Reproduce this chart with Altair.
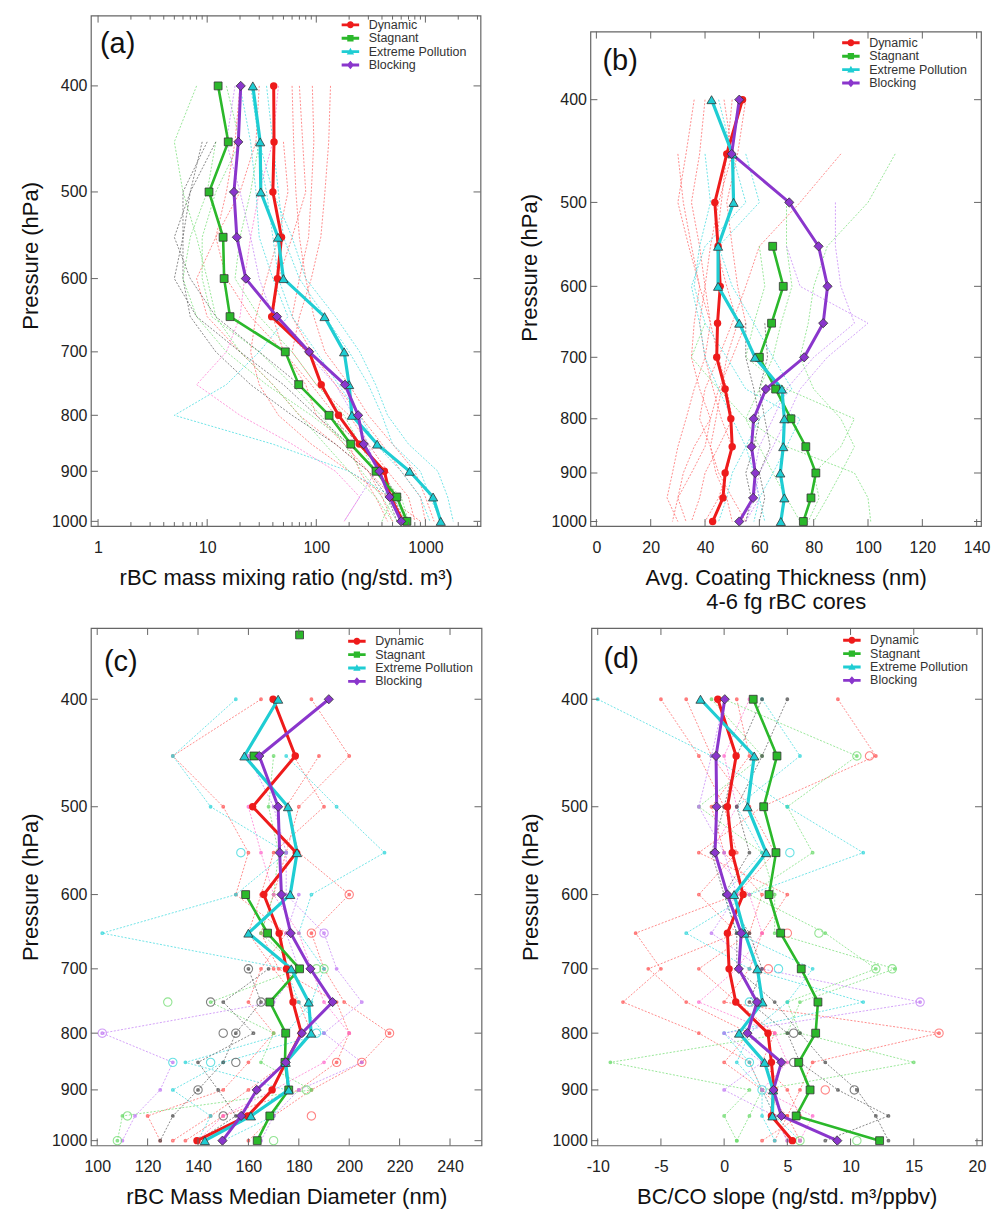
import altair as alt
import pandas as pd

FONT = "Liberation Sans"

# ---------------- data ----------------
P = [400, 450, 500, 550, 600, 650, 700, 750, 800, 850, 900, 950, 1000]
PC = [350, 400, 450, 500, 550, 600, 650, 700, 750, 800, 850, 900, 950, 1000]
PTICKS = [400, 500, 600, 700, 800, 900, 1000]

SERIES = ["Dynamic", "Stagnant", "Extreme Pollution", "Blocking"]
COLORS = ["#ee1b1b", "#2bb82b", "#1fcdd3", "#8a36cc"]
SHAPES = ["circle", "square", "triangle-up", "diamond"]

# (a) rBC mass mixing ratio
A_DYN = [40.7, 41, 40, 48, 44, 39, 86, 111, 160, 248, 421, 478, 622]
A_STA = [12.6, 15.6, 10.4, 14, 14.3, 16.2, 52, 69, 131, 207, 353, 547, 677]
A_EXT = [26.2, 30.6, 31, 44.6, 50, 119, 180, 200, 212, 361, 717, 1176, 1383]
A_BLK = [20.3, 19.3, 17.6, 18.7, 22.6, 43.6, 86, 183, 242, 272, 379, 469, 600]

# (b) coating thickness
B_DYN = [53.8, 48, 43.6, 44.8, 45.6, 44.6, 44.3, 47.4, 49.5, 50, 47.4, 46.6, 42.8]
B_STA = [None, None, None, 64.9, 68.8, 64.5, 60, 66, 71.6, 77.1, 80.8, 79, 76.2]
B_EXT = [42.4, 50.1, 50.5, 44.8, 44.8, 52.6, 58.4, 68.3, 69.2, 68.8, 67.7, 69.2, 67.9]
B_BLK = [52.6, 49.8, 71, 81.8, 85.1, 83.5, 76.5, 62.4, 57.9, 57.1, 58.5, 57.7, 52.6]

# (c) mass median diameter (levels PC, starting at 350 hPa)
C_DYN = [None, 169.8, 178.6, 161.7, 179, 166.1, 172.2, 175.1, 177.7, 181, 174.8, 169.4, 159.7, 139.6]
C_STA = [180.3, None, 162.2, None, None, 158.9, 167.6, 180.3, 168.5, 174.8, 174.5, 176, 168.5, 163.5]
C_EXT = [None, 171.8, 158.4, 175.7, 179.3, 176.6, 160, 177, 183.9, 184.9, 174.8, 176, 161, 142.7]
C_BLK = [None, 191.9, 164.3, 171.8, 172.4, 173.1, 176.8, 184.6, 193.4, 181.2, 174.8, 163.3, 157.1, 149.7]

# (d) BC/CO slope
D_DYN = [-0.5, 0.95, 0.26, 0.64, 1.5, 0.26, 0.39, 0.92, 3.47, 3.74, 3.95, 3.74, 5.4]
D_STA = [2.3, 4.18, 3.13, 4.1, 3.55, 4.47, 6.1, 7.42, 7.24, 5.9, 6.8, 5.7, 12.3]
D_EXT = [-1.87, 2.38, 1.85, 3.33, 0.79, 1.63, 2.63, 3.03, 1.18, 3.2, 3.87, 3.82, None]
D_BLK = [0.05, -0.64, -0.59, -0.72, 0.26, 1.35, 1.16, 2.6, 1.84, 4.53, 3.9, 4.53, 8.95]

# background colours of individual profiles
BG_R = "#ff5c5c"
BG_G = "#6fdc6f"
BG_C = "#35d8dc"
BG_P = "#c27bf5"
BG_K = "#555555"
BG_M = "#ff6fcf"

# (a) individual profiles
A_BG_R1 = [60, 62, 65, 70, 80, 95, 120, 200, 300, 500, 800, 1000, 1200]
A_BG_R2 = [92, 95, 90, 85, 70, 60, 90, 150, 250, 400, 600, 900, 1000]
A_BG_R3 = [135, 130, 120, 110, 90, 70, 60, 100, 200, 300, 450, 700, 800]
A_BG_R4 = [30, 28, 20, 12, 8, 10, 20, 40, 70, 150, 300, 500, 600]
A_BG_R5 = [45, 40, 30, 25, 22, 20, 15, 8, 20, 60, 150, 250, 180]
A_BG_R6 = [20, 18, 15, 12, 15, 25, 50, 90, 150, 200, 250, 350, 450]
A_BG_R7 = [70, 75, 80, 60, 45, 40, 50, 80, 100, 180, 300, 400, 500]
A_BG_R8 = [None, 50, 55, 45, 35, 28, 25, 30, 45, 90, 200, 450, 900]
A_BG_G1 = [8, 5, 6, 8, 10, 12, 20, 40, 70, 120, 200, 350, 500]
A_BG_G2 = [15, 20, 12, 9, 9, 11, 30, 60, 110, 180, 260, 400, 550]
A_BG_G3 = [None, 30, 25, 20, 18, 30, 60, 100, 180, 250, 350, 600, 700]
A_BG_G4 = [None, 12, 10, 7, 6, 8, 15, 35, 90, 200, 350, 500, 400]
A_BG_C1 = [25, 30, 40, 60, 80, 150, 250, 350, 450, 700, 1300, 1600, 1800]
A_BG_C2 = [20, 25, 28, 30, 40, 55, 30, 15, 5, 40, 200, 500, 700]
A_BG_C3 = [35, 40, 45, 50, 70, 120, 200, 300, 400, 500, 900, 1100, 1400]
A_BG_C4 = [None, 28, 35, 40, 45, 60, 100, 160, 250, 350, 600, 900, 1100]
A_BG_K1 = [None, 10, 6, 6, 5, 8, 20, 50, 100, 200, 350, 500, 650]
A_BG_K2 = [None, 12, 7, 5, 7, 12, 30, 70, 130, 250, 400, 550, 700]
A_BG_K3 = [None, 9, 7, 6, 6, 7, 12, 25, 60, 150, 300, 450, 550]
A_BG_M1 = [18, 15, 20, 25, 30, 40, 80, 150, 220, 300, 350, 250, 180]

# (b) individual profiles
B_BG_R1 = [40, 38, 35, 38, 40, 42, 45, 48, 50, 45, 40, 38, 35]
B_BG_R2 = [47, 50, 45, 42, 40, 38, 40, 43, 46, 50, 48, 45, 40]
B_BG_R3 = [55, 52, 48, 50, 52, 55, 50, 45, 42, 40, 35, 30, 28]
B_BG_R4 = [None, 90, 75, 60, 55, 50, 45, 40, 38, 42, 45, 50, 55]
B_BG_R5 = [36, 33, 30, 34, 38, 36, 35, 38, 42, 36, 32, 30, 33]
B_BG_R6 = [None, 30, 32, 35, 38, 42, 40, 36, 33, 30, 28, 26, 30]
B_BG_R7 = [50, 48, 46, 44, 48, 52, 48, 46, 44, 42, 44, 48, 50]
B_BG_G1 = [None, 110, 100, 85, 80, 78, 75, 80, 90, 95, 90, 85, 80]
B_BG_G2 = [None, None, 70, 70, 72, 68, 65, 60, 55, 60, 65, 70, 75]
B_BG_G3 = [None, None, None, None, None, 40, 35, 45, 55, 70, 95, 100, 101]
B_BG_G4 = [None, None, None, 60, 62, 58, 55, 70, 95, 90, 80, 82, 78]
B_BG_C1 = [45, 50, 55, 40, 35, 38, 40, 45, 50, 55, 50, 48, 45]
B_BG_C2 = [None, 55, 60, 45, 50, 58, 65, 72, 60, 55, 58, 60, 62]
B_BG_C3 = [None, 40, 42, 38, 36, 40, 48, 55, 75, 70, 65, 60, 58]
B_BG_P1 = [None, None, 88, 88, 90, 95, 80, 70, 65, 60, 58, 60, 55]
B_BG_P2 = [None, None, None, 70, 75, 100, 85, 75, 70, 65, 60, 58, 55]
B_BG_K1 = [None, None, None, None, None, 55, 55, 58, 60, 58, 55, 57, 55]
B_BG_K2 = [None, None, None, None, None, 62, 63, 60, 62, 64, 60, 62, 60]

# (c) individual profiles
C_BG_R1 = [185, 200, 180, 175, 170, 165, 172, 195, 200, 195, 180, 150, 135]
C_BG_R2 = [165, 130, 150, 160, 155, 175, 165, 160, 170, 160, 150, 120, 125]
C_BG_R3 = [None, 188, 175, 180, 200, 185, 190, 198, 216, 205, 185, 170, 160]
C_BG_R4 = [None, 178, 190, 170, 165, 160, 170, 180, 185, 175, 160, 145, 130]
C_BG_C1 = [155, 130, 145, 175, 155, 102, 175, 180, 190, 150, 130, 145, 140]
C_BG_C2 = [None, 175, 195, 214, 185, 180, 190, 185, 175, 135, 175, 170, 150]
C_BG_G1 = [None, 170, 168, 172, 170, 165, 180, 145, 170, 165, 185, 110, 108]
C_BG_P1 = [None, 160, 170, 175, 175, 190, 195, 205, 190, 205, 180, 170, 165]
C_BG_P2 = [None, None, None, None, 180, 175, 180, 170, 102, 130, 125, 115, 110]
C_BG_M1 = [None, None, 160, 165, 170, 180, 185, 190, 200, 190, 170, 150, 140]
C_BG_K1 = [None, None, None, None, None, None, 160, 165, 155, 150, 140, 130, 125]
C_BG_K2 = [None, None, None, None, None, None, 168, 150, 162, 140, 148, 155, 140]

C_CIRC_V = [157, 200, 190, 185, 160, 190, 187, 145, 165, 128, 102, 150, 155, 216, 187,
            130, 145, 155, 195, 205, 183, 140, 150, 112, 108, 170, 185]
C_CIRC_P = [550, 600, 650, 650, 700, 700, 700, 750, 750, 750, 800, 800, 800, 800, 800,
            850, 850, 850, 850, 850, 900, 900, 950, 950, 1000, 1000, 950]
C_CIRC_COL = [BG_C, BG_R, BG_P, BG_R, BG_K, BG_G, BG_G, BG_K, BG_K, BG_G, BG_P, BG_K, BG_K, BG_R, BG_C,
              BG_C, BG_C, BG_K, BG_R, BG_R, BG_G, BG_K, BG_K, BG_G, BG_G, BG_G, BG_R]

# (d) individual profiles
D_BG_R1 = [-3, -1, 2, 4, 1, -7, -5, -8, -2, 2, 3, 4, 5]
D_BG_R2 = [9, 12, 3, -2, 5, 3, 2, 0, 17, 7, 6, 5, 6]
D_BG_R3 = [-5, -2, 0, 1, -2, 1, -6, -3, 2, 0, 3, 5, 4]
D_BG_R4 = [1, 2, -1, 0, 3, 2, -2, 1, 4, 3, 5, 6, 3]
D_BG_G1 = [0, 10.5, 5, 7, 2, 8, 12, 5, 6, 15, 3, 2, 1]
D_BG_G2 = [-1, 3, -2, 3, 4, 4, 13.5, 6, 5, -9, 2, 0, 1]
D_BG_C1 = [-10, -1, 5, 11, 2, -3, 2, 11, 0, 2, 3, 3, 4]
D_BG_C2 = [3, 6, 1, 3, 0, 1, 7, 5, 2, 1, 3, 4, 6]
D_BG_P1 = [0, -1, -2, 0, 1, -1, 3, 15.5, 0, 3, 0, 4, 5]
D_BG_M1 = [2, 0, 1, -1, 2, 3, 1, -2, 4, 5, 3, 7, 6]
D_BG_K1 = [5, 3, 1, 2, 0, 1, 1, 4, 6, 8, 10.5, 12, 13]
D_BG_K2 = [3, 1, 0, -1, 0, 2, 3, 2, 5, 6, 9, 13, 8]

D_CIRC_V = [10.5, 11.5, 5.2, 12, 13.3, 15.5, 17, 10.3, 5.5, 4.3, 3.5, 5, 7.5, 2, 2, 3, 6, 10.5, 8, 5.5]
D_CIRC_P = [450, 450, 550, 700, 700, 750, 800, 900, 800, 700, 700, 650, 650, 750, 850, 900, 1000, 1000, 900, 850]
D_CIRC_COL = [BG_G, BG_R, BG_C, BG_G, BG_G, BG_P, BG_R, BG_K, BG_K, BG_C, BG_R, BG_R, BG_G, BG_C, BG_C,
              BG_C, BG_G, BG_G, BG_R, BG_K]

# ---------------- helpers ----------------
W_LINE = {"Dynamic": 3, "Stagnant": 2.6, "Extreme Pollution": 3.2, "Blocking": 3}
SZ_PT = {"Dynamic": 55, "Stagnant": 62, "Extreme Pollution": 85, "Blocking": 85}
SW_PT = {"Dynamic": 0, "Stagnant": 0.8, "Extreme Pollution": 0.8, "Blocking": 0.8}

LINE_PATH = "M-2.5,-0.42H2.5V0.42H-2.5Z"
LEG_PATHS = [
    LINE_PATH + "M0,-1A1,1,0,1,1,0,1A1,1,0,1,1,0,-1Z",
    LINE_PATH + "M-0.9,-0.9H0.9V0.9H-0.9Z",
    LINE_PATH + "M0,-1.1L1.05,0.8H-1.05Z",
    LINE_PATH + "M0,-1.2L1.05,0L0,1.2L-1.05,0Z",
]


def runs(plist, vals, key):
    rows = []
    seg = 0
    for p, v in zip(plist, vals):
        if v is None:
            seg += 1
            continue
        rows.append({"p": p, "v": v, "key": f"{key}-{seg}"})
    return rows


def main_df(plist, series_vals):
    rows = []
    for name, vals in zip(SERIES, series_vals):
        for r in runs(plist, vals, name):
            r.update(series=name, w=W_LINE[name], sz=SZ_PT[name], sw=SW_PT[name])
            rows.append(r)
    return pd.DataFrame(rows)


def bg_df(lines):
    rows = []
    for i, (col, vals) in enumerate(lines):
        for r in runs(P, vals, f"bg{i}"):
            r["col"] = col
            rows.append(r)
    return pd.DataFrame(rows)


def panel(mdf, bgdf, circ, xscale, xaxis, W, H, label, xmaj, xmin, legx, legy,
          labx, laby, dots=False, ytitle_y=None):
    yscale = alt.Scale(type="log", domain=[345, 1010], reverse=True, nice=False)
    ykw = dict(values=PTICKS, title="Pressure (hPa)", format="d", ticks=False, domain=False,
               grid=False, labelFontSize=16, titleFontSize=22, labelPadding=4, titlePadding=9,
               labelFont=FONT, titleFont=FONT, titleFontWeight="normal",
               labelColor="#222", titleColor="#111")
    if ytitle_y is not None:
        ykw["titleY"] = ytitle_y
    yaxis = alt.Axis(**ykw)
    X = alt.X("v:Q", scale=xscale, axis=xaxis)
    Y = alt.Y("p:Q", scale=yscale, axis=yaxis)

    layers = []
    layers.append(
        alt.Chart(bgdf).mark_line(strokeDash=[2, 1.6], strokeWidth=1, opacity=0.7, clip=True).encode(
            x=X, y=Y, stroke=alt.Stroke("col:N", scale=None), detail="key:N", order="p:Q"))
    if dots:
        layers.append(
            alt.Chart(bgdf).mark_point(shape="circle", size=5, strokeWidth=1.6, opacity=0.8, clip=True).encode(
                x=X, y=Y, stroke=alt.Stroke("col:N", scale=None)))
    if circ is not None:
        layers.append(
            alt.Chart(circ).mark_point(shape="circle", size=70, strokeWidth=1.1, opacity=0.75, clip=True).encode(
                x=X, y=Y, stroke=alt.Stroke("col:N", scale=None)))

    cscale = alt.Scale(domain=SERIES, range=COLORS)
    layers.append(
        alt.Chart(mdf).mark_line(clip=True).encode(
            x=X, y=Y, color=alt.Color("series:N", scale=cscale, legend=None),
            strokeWidth=alt.StrokeWidth("w:Q", scale=None), detail="key:N", order="p:Q"))
    layers.append(
        alt.Chart(mdf).mark_point(filled=True, opacity=1, stroke="#333333", clip=True).encode(
            x=X, y=Y, color=alt.Color("series:N", scale=cscale, legend=None),
            shape=alt.Shape("series:N", scale=alt.Scale(domain=SERIES, range=SHAPES), legend=None),
            size=alt.Size("sz:Q", scale=None),
            strokeWidth=alt.StrokeWidth("sw:Q", scale=None)))

    leg = alt.Legend(orient="none", legendX=legx, legendY=legy, title=None, labelFontSize=12.5,
                     labelFont=FONT, labelColor="#333", symbolSize=49, symbolStrokeWidth=0,
                     symbolOpacity=1, labelOffset=12, rowPadding=0.4, padding=0)
    layers.append(
        alt.Chart(mdf).mark_point(filled=True, opacity=0).encode(
            x=X, y=Y,
            fill=alt.Fill("series:N", scale=alt.Scale(domain=SERIES, range=COLORS), legend=leg),
            shape=alt.Shape("series:N", scale=alt.Scale(domain=SERIES, range=LEG_PATHS), legend=leg)))

    # inward ticks on all four sides
    ydf = pd.DataFrame({"p": PTICKS})
    layers.append(alt.Chart(ydf).mark_rule(color="#666", strokeWidth=1).encode(
        y=Y, x=alt.value(0), x2=alt.value(7)))
    layers.append(alt.Chart(ydf).mark_rule(color="#666", strokeWidth=1).encode(
        y=Y, x=alt.value(W - 7), x2=alt.value(W)))
    xdf = pd.DataFrame({"v": xmaj})
    layers.append(alt.Chart(xdf).mark_rule(color="#666", strokeWidth=1).encode(
        x=X, y=alt.value(H - 7), y2=alt.value(H)))
    layers.append(alt.Chart(xdf).mark_rule(color="#666", strokeWidth=1).encode(
        x=X, y=alt.value(0), y2=alt.value(7)))
    if xmin:
        xmdf = pd.DataFrame({"v": xmin})
        layers.append(alt.Chart(xmdf).mark_rule(color="#666", strokeWidth=1).encode(
            x=X, y=alt.value(H - 4), y2=alt.value(H)))
        layers.append(alt.Chart(xmdf).mark_rule(color="#666", strokeWidth=1).encode(
            x=X, y=alt.value(0), y2=alt.value(4)))

    layers.append(alt.Chart(pd.DataFrame({"t": [label]})).mark_text(
        align="left", baseline="middle", fontSize=29, font=FONT, color="#111").encode(
        text="t:N", x=alt.value(labx), y=alt.value(laby)))

    return alt.layer(*layers).resolve_scale(shape="independent", fill="independent").properties(
        width=W, height=H)


def xaxis_for(values, title, expr=None):
    kw = dict(values=values, title=title, ticks=False, domain=False, grid=False,
              labelFontSize=16, titleFontSize=22, labelPadding=13, titlePadding=12,
              labelFont=FONT, titleFont=FONT, titleFontWeight="normal",
              labelColor="#222", titleColor="#111", titleLineHeight=25, labelFlush=False)
    if expr:
        kw["labelExpr"] = expr
    else:
        kw["format"] = "d"
    return alt.Axis(**kw)


# ---------------- panels ----------------
mA = main_df(P, [A_DYN, A_STA, A_EXT, A_BLK])
bgA = bg_df([(BG_R, A_BG_R1), (BG_R, A_BG_R2), (BG_R, A_BG_R3), (BG_R, A_BG_R4), (BG_M, A_BG_R5),
             (BG_R, A_BG_R6), (BG_R, A_BG_R7), (BG_R, A_BG_R8), (BG_G, A_BG_G1), (BG_G, A_BG_G2),
             (BG_G, A_BG_G3), (BG_G, A_BG_G4), (BG_C, A_BG_C1), (BG_C, A_BG_C2), (BG_C, A_BG_C3),
             (BG_C, A_BG_C4), (BG_K, A_BG_K1), (BG_K, A_BG_K2), (BG_K, A_BG_K3), (BG_P, A_BG_M1)])
a_minor = [m * d for d in [1, 10, 100] for m in range(2, 10)] + [2000, 3000]
chA = panel(mA, bgA, None,
            alt.Scale(type="log", domain=[0.86, 3200], nice=False),
            xaxis_for([1, 10, 100, 1000], "rBC mass mixing ratio (ng/std. m³)"),
            390, 511, "(a)", [1, 10, 100, 1000], a_minor, 253.5, 3, 9, 28, ytitle_y=240)

mB = main_df(P, [B_DYN, B_STA, B_EXT, B_BLK])
bgB = bg_df([(BG_R, B_BG_R1), (BG_R, B_BG_R2), (BG_R, B_BG_R3), (BG_R, B_BG_R4), (BG_R, B_BG_R5),
             (BG_R, B_BG_R6), (BG_R, B_BG_R7), (BG_G, B_BG_G1), (BG_G, B_BG_G2), (BG_G, B_BG_G3),
             (BG_G, B_BG_G4), (BG_C, B_BG_C1), (BG_C, B_BG_C2), (BG_C, B_BG_C3), (BG_P, B_BG_P1),
             (BG_P, B_BG_P2), (BG_K, B_BG_K1), (BG_K, B_BG_K2)])
chB = panel(mB, bgB, None,
            alt.Scale(domain=[-2.2, 141.6], nice=False, zero=False),
            xaxis_for(list(range(0, 141, 20)), ["Avg. Coating Thickness (nm)", "4-6 fg rBC cores"]),
            391, 495, "(b)", list(range(0, 141, 20)), None, 254.5, 5, 12, 29, ytitle_y=236)

# invisible spacer that pushes panel (b) down a little, as in the original
spacer = alt.Chart(pd.DataFrame({"v": [0]}), view=alt.ViewBackground(stroke=None)).mark_point(
    opacity=0).encode(x=alt.X("v:Q", axis=None), y=alt.Y("v:Q", axis=None)).properties(
    width=391, height=1)
colB = alt.vconcat(spacer, chB, spacing=10)

mC = main_df(PC, [C_DYN, C_STA, C_EXT, C_BLK])
bgC = bg_df([(BG_R, C_BG_R1), (BG_R, C_BG_R2), (BG_R, C_BG_R3), (BG_R, C_BG_R4), (BG_C, C_BG_C1),
             (BG_C, C_BG_C2), (BG_G, C_BG_G1), (BG_P, C_BG_P1), (BG_P, C_BG_P2), (BG_M, C_BG_M1),
             (BG_K, C_BG_K1), (BG_K, C_BG_K2)])
circC = pd.DataFrame({"v": C_CIRC_V, "p": C_CIRC_P, "col": C_CIRC_COL})
chC = panel(mC, bgC, circC,
            alt.Scale(domain=[97.5, 252.5], nice=False, zero=False),
            xaxis_for(list(range(100, 241, 20)), "rBC Mass Median Diameter (nm)"),
            391, 518, "(c)", list(range(100, 241, 20)), None, 260, 7, 13, 34, dots=True)

mD = main_df(P, [D_DYN, D_STA, D_EXT, D_BLK])
bgD = bg_df([(BG_R, D_BG_R1), (BG_R, D_BG_R2), (BG_R, D_BG_R3), (BG_R, D_BG_R4), (BG_G, D_BG_G1),
             (BG_G, D_BG_G2), (BG_C, D_BG_C1), (BG_C, D_BG_C2), (BG_P, D_BG_P1), (BG_M, D_BG_M1),
             (BG_K, D_BG_K1), (BG_K, D_BG_K2)])
circD = pd.DataFrame({"v": D_CIRC_V, "p": D_CIRC_P, "col": D_CIRC_COL})
chD = panel(mD, bgD, circD,
            alt.Scale(domain=[-10.5, 20.4], nice=False, zero=False),
            xaxis_for(list(range(-10, 21, 5)), "BC/CO slope (ng/std. m³/ppbv)", expr="'' + datum.value"),
            391, 518, "(d)", list(range(-10, 21, 5)), None, 254.5, 6, 12, 31, dots=True)

RES = dict(color="independent", fill="independent", shape="independent",
           stroke="independent", strokeWidth="independent", size="independent")

top = alt.hconcat(chA, colB, spacing=35).resolve_scale(**RES)
bottom = alt.hconcat(chC, chD, spacing=35).resolve_scale(**RES)

chart = alt.vconcat(top, bottom, spacing=12).resolve_scale(**RES).properties(
    padding={"left": 10, "top": 4, "right": 2, "bottom": 2}
).configure_view(stroke="#666666", strokeWidth=1.2)

chart.save("out.html", embed_options={"renderer": "svg", "actions": False})
